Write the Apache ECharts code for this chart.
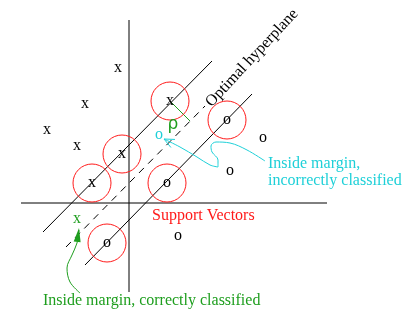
<!DOCTYPE html>
<html>
<head>
<meta charset="utf-8">
<script src="https://cdn.jsdelivr.net/npm/echarts@6/dist/echarts.min.js"></script>
<style>html,body{margin:0;padding:0;background:#fff}#c{width:409px;height:314px}</style>
</head>
<body>
<div id="c"></div>
<script>
// ---- data (origin at the crossing of the two axes, y up) ----
const xMarks = [[-11,135],[-44,99],[-82,73],[-52,57]];
const xSupport = [[-7,49],[41,102],[-37,20]];
const oSupport = [[38,20],[98,83],[-22,-40]];
const oMarks = [[134,65],[101,32],[49,-33]];
const xInside = [[-52,-16]];
const oInside = [[30,68]];
const axisSegments = [[-108,0,198,0],[0,-89,0,183]];
const marginSegments = [[-86,-29,83,142],[-44,-62,123,109]];
const hyperplaneSegment = [[-63,-44,76,97]];
const rhoSegment = [[41,102,59,84],[57,86,61,82]];
const rhoLabel = [[44,78]];
const supportRadius = 19;
const cyanCurve = [[35,64],[51,56],[68,46],[81,38],[89,36],[89,43],[83,51],[82,57],[87,61],[101,60],[118,53],[136,42]];
const greenCurve = [[-49,-90],[-59,-79],[-62,-65],[-57,-52],[-52,-40],[-50,-27]];
const cyanArrow = [[35,64,51,56]];
const greenArrow = [[-50,-25,-52,-40]];
const hyperplaneTitle = 'Optimal hyperplane';
const hyperplaneTitlePos = [[123,145]];
const supportTitle = 'Support Vectors';
const supportTitlePos = [[23,-13]];
const cyanTitle = ['Inside margin,','incorrectly classified'];
const cyanTitlePos = [[139,39],[139,22]];
const greenTitle = 'Inside margin, correctly classified';
const greenTitlePos = [[-86,-98]];

const SERIF = '"Liberation Serif", "DejaVu Serif", serif';
const RED = '#ff1a1a', CYAN = '#1ed0d8', GREEN = '#1e9e1e';

function segSeries(data, color, dash) {
  return {
    type: 'custom', data: data, clip: false, silent: true,
    renderItem: function (p, api) {
      const a = api.coord([api.value(0), api.value(1)]);
      const b = api.coord([api.value(2), api.value(3)]);
      return {type: 'line', shape: {x1: a[0], y1: a[1], x2: b[0], y2: b[1]},
        style: {stroke: color, lineWidth: 1, lineDash: dash || null}};
    }
  };
}
function textSeries(data, texts, color, opts) {
  opts = opts || {};
  return {
    type: 'custom', data: data, clip: false, silent: true,
    renderItem: function (p, api) {
      const a = api.coord([api.value(0), api.value(1)]);
      return {type: 'text', x: a[0], y: a[1] + (opts.dy || 0), rotation: opts.rotation || 0,
        style: {text: Array.isArray(texts) ? texts[p.dataIndex] : texts, fill: color,
          font: (opts.size || 16) + 'px ' + (opts.family || SERIF), align: opts.align || 'center', verticalAlign: 'middle'}};
    }
  };
}
function circleSeries(data) {
  return {
    type: 'custom', data: data, clip: false, silent: true,
    renderItem: function (p, api) {
      const a = api.coord([api.value(0), api.value(1)]);
      const r = api.size([supportRadius, 0])[0];
      return {type: 'circle', shape: {cx: a[0], cy: a[1], r: r},
        style: {stroke: RED, fill: 'none', lineWidth: 1}};
    }
  };
}
function arrowSeries(data, color, filled) {
  return {
    type: 'custom', data: data, clip: false, silent: true,
    renderItem: function (p, api) {
      const t = api.coord([api.value(0), api.value(1)]);
      const f = api.coord([api.value(2), api.value(3)]);
      let dx = f[0] - t[0], dy = f[1] - t[1];
      const L = Math.hypot(dx, dy); dx /= L; dy /= L;
      const len = filled ? 14 : 10, hw = filled ? 3.5 : 4.5;
      const bx = t[0] + dx * len, by = t[1] + dy * len;
      const p1 = [bx - dy * hw, by + dx * hw], p2 = [bx + dy * hw, by - dx * hw];
      if (filled) {
        return {type: 'polygon', shape: {points: [t, p1, p2]}, style: {fill: color}};
      }
      return {type: 'polyline', shape: {points: [p1, t, p2]}, style: {stroke: color, lineWidth: 1, fill: 'none'}};
    }
  };
}
function curveSeries(data, color) {
  return {type: 'line', data: data, smooth: 0.35, symbol: 'none', silent: true,
    lineStyle: {color: color, width: 1}};
}

const chart = echarts.init(document.getElementById('c'), null, {renderer: 'canvas'});
chart.setOption({
  animation: false,
  grid: {left: 0, right: 0, top: 0, bottom: 0},
  xAxis: {type: 'value', min: -129, max: 280, show: false},
  yAxis: {type: 'value', min: -111, max: 203, show: false},
  series: [
    segSeries(axisSegments, '#000'),
    segSeries(marginSegments, '#000'),
    segSeries(hyperplaneSegment, '#000', [7, 6]),
    segSeries(rhoSegment, GREEN),
    circleSeries(xSupport),
    circleSeries(oSupport),
    textSeries(xMarks, 'x', '#000'),
    textSeries(xSupport, 'x', '#000'),
    textSeries(oSupport, 'o', '#000'),
    textSeries(oMarks, 'o', '#000'),
    textSeries(xInside, 'x', GREEN),
    textSeries(oInside, 'o', CYAN),
    textSeries(rhoLabel, 'ρ', GREEN, {size: 17, family: '"DejaVu Sans", sans-serif'}),
    curveSeries(cyanCurve, CYAN),
    curveSeries(greenCurve, GREEN),
    arrowSeries(cyanArrow, CYAN, false),
    arrowSeries(greenArrow, GREEN, true),
    textSeries(hyperplaneTitlePos, hyperplaneTitle, '#000', {rotation: 47 * Math.PI / 180}),
    textSeries(supportTitlePos, supportTitle, RED, {align: 'left'}),
    textSeries(cyanTitlePos, cyanTitle, CYAN, {align: 'left'}),
    textSeries(greenTitlePos, greenTitle, GREEN, {align: 'left'})
  ]
});
</script>
</body>
</html>
